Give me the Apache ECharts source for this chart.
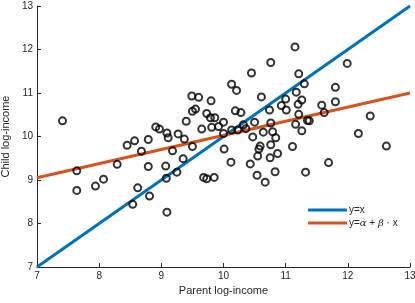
<!DOCTYPE html>
<html>
<head>
<meta charset="utf-8">
<script src="https://cdn.jsdelivr.net/npm/echarts@6/dist/echarts.min.js"></script>
<style>html,body{margin:0;padding:0;background:#fff;}#c{width:415px;height:303px;}</style>
</head>
<body>
<div id="c"></div>
<script>
// Parent log-income (x) and child log-income (y) for each observation
const parentX = [7.41,7.64,7.64,7.94,8.07,8.29,8.45,8.57,8.79,8.68,8.79,8.62,8.81,8.54,9.09,9.07,9.08,9.25,9.35,9.18,
9.37,9.50,9.27,9.09,9.11,8.91,8.97,9.65,9.68,9.73,9.85,10.01,10.12,10.00,9.40,9.50,9.55,9.49,9.60,9.80,
9.73,9.79,9.86,9.81,9.92,10.00,10.13,10.21,10.45,10.76,11.15,11.21,11.99,11.30,11.17,11.80,10.61,11.00,11.26,10.93,
11.01,11.20,11.58,11.80,11.62,10.74,10.19,10.28,11.21,11.35,11.38,12.36,10.50,10.76,11.16,10.32,10.13,10.23,10.36,10.64,
10.79,11.26,12.17,10.47,10.84,10.76,10.59,10.57,11.11,12.62,10.87,10.55,10.75,10.43,11.69,10.54,10.83,11.32,10.67];
const childY = [10.36,9.21,8.76,8.86,9.02,9.36,9.80,9.90,9.93,9.66,9.31,8.82,8.63,8.44,8.26,9.32,9.04,9.18,9.49,9.67,
9.94,9.77,10.06,10.08,9.97,10.22,10.17,10.17,9.06,9.03,9.06,9.71,9.41,10.07,10.35,10.58,10.63,10.93,10.90,10.82,
10.53,10.43,10.43,10.21,10.23,10.33,11.20,11.06,11.46,11.70,12.06,11.44,11.68,11.21,11.02,11.13,10.91,10.86,10.84,10.71,
10.61,10.74,10.72,10.80,10.55,10.61,10.59,10.55,10.51,10.37,10.36,10.47,10.33,10.31,10.28,10.27,10.15,10.15,10.18,10.10,
10.11,10.13,10.07,9.99,9.97,9.81,9.78,9.71,9.77,9.78,9.61,9.55,9.51,9.37,9.40,9.11,9.19,9.18,8.95];
// Reference lines
const lineX = [7, 13];
const identityY = [7, 13];
const fitY = [9.05, 11.0];
const xTicks = [7, 8, 9, 10, 11, 12, 13];
const yTicks = [7, 8, 9, 10, 11, 12, 13];

const chart = echarts.init(document.getElementById('c'), null, {renderer: 'canvas'});
const axisCol = '#262626';
const font = '"Liberation Sans", Arial, Helvetica, sans-serif';
const mkAxis = (name, ticks, isY) => ({
  type: 'value', min: ticks[0], max: ticks[ticks.length - 1], interval: 1,
  name: name, nameLocation: 'middle', nameGap: isY ? 23 : 18,
  nameTextStyle: {color: axisCol, fontSize: 11, fontFamily: font},
  axisLine: {show: true, onZero: false, lineStyle: {color: axisCol, width: 1}},
  axisTick: {show: true, inside: true, length: 4, lineStyle: {color: axisCol, width: 1}},
  axisLabel: {color: axisCol, fontSize: 10, fontFamily: font, margin: 4},
  splitLine: {show: false}
});
chart.setOption({
  animation: false,
  backgroundColor: '#fff',
  grid: {left: 37, right: 5, top: 6, bottom: 36, containLabel: false, outerBoundsMode: 'none'},
  xAxis: mkAxis('Parent log-income', xTicks, false),
  yAxis: mkAxis('Child log-income', yTicks, true),
  legend: {
    orient: 'vertical', left: 308, top: 205, itemGap: 3, padding: 0,
    itemWidth: 39, itemHeight: 3, icon: 'rect',
    data: ['y=x', 'fit'],
    formatter: n => n === 'fit' ? 'y={i|α} + {i|β} · x' : 'y=x',
    textStyle: {color: axisCol, fontSize: 10, fontFamily: font, padding: [0,0,0,-3],
      rich: {i: {fontStyle: 'italic', fontFamily: '"DejaVu Serif", serif', fontSize: 10, color: axisCol}}}
  },
  series: [
    {name: 'y=x', type: 'line', data: lineX.map((x, i) => [x, identityY[i]]), showSymbol: false,
      lineStyle: {color: '#0072BD', width: 3}, itemStyle: {color: '#0072BD'}, z: 2},
    {name: 'fit', type: 'line', data: lineX.map((x, i) => [x, fitY[i]]), showSymbol: false,
      lineStyle: {color: '#D95319', width: 3}, itemStyle: {color: '#D95319'}, z: 2},
    {name: 'data', type: 'scatter', data: parentX.map((x, i) => [x, childY[i]]),
      symbol: 'circle', symbolSize: 7,
      itemStyle: {color: 'rgba(0,0,0,0)', borderColor: '#000', borderWidth: 2}, z: 3}
  ]
});
</script>
</body>
</html>
